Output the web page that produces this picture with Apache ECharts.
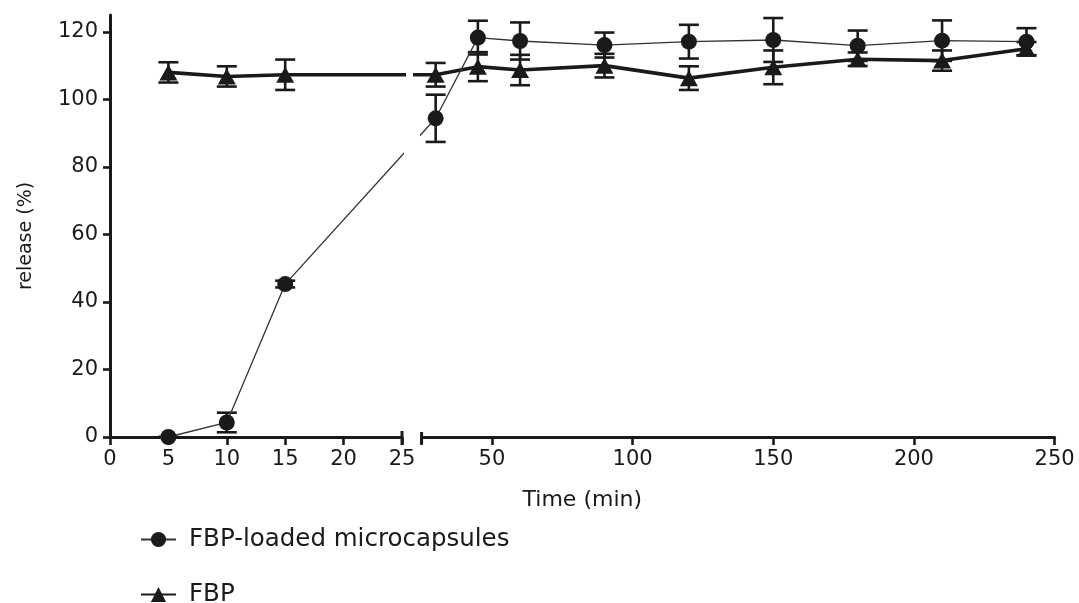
<!DOCTYPE html>
<html>
<head>
<meta charset="utf-8">
<script src="https://cdn.jsdelivr.net/npm/echarts@6/dist/echarts.min.js"></script>
<style>
  html, body { margin: 0; padding: 0; background: #fff; }
  #chart { width: 1079px; height: 603px; }
</style>
</head>
<body>
<div id="chart"></div>
<script>
// Sampling times (min)
const timesMin = [5, 10, 15, 30, 45, 60, 90, 120, 150, 180, 210, 240];

// FBP-loaded microcapsules: mean release (%) and SD
const microMean = [0, 4.3, 45.3, 94.4, 118.3, 117.3, 116.1, 117.1, 117.6, 115.9, 117.4, 117.1];
const microSd   = [0, 2.9, 1.0, 7.0, 5.0, 5.5, 3.7, 5.0, 6.5, 4.5, 6.0, 4.0];

// Free FBP: mean release (%) and SD
const fbpMean = [108.0, 106.8, 107.3, 107.3, 109.7, 108.7, 110.0, 106.3, 109.5, 111.9, 111.5, 115.0];
const fbpSd   = [3.0, 3.0, 4.5, 3.5, 4.3, 4.5, 3.5, 3.5, 5.0, 2.0, 3.0, 2.0];

// Series names
const seriesNames = ['FBP-loaded microcapsules', 'FBP'];

// Axis ranges and tick labels
const seg1Range = [0, 25];
const seg1Interval = 5;
const seg2Range = [25, 250];
const seg2TickValues = [50, 100, 150, 200, 250];
const yRange = [0, 125];
const yTickValues = [0, 20, 40, 60, 80, 100, 120];

// Layout of the broken x axis (pixels)
const PLOT_LEFT = 110;
const PLOT_TOP = 15;
const PLOT_BOTTOM = 166;
const SEG1_W = 292;
const GAP_W = 19.6;
const SEG2_W = 633;
const TOTAL_W = SEG1_W + GAP_W + SEG2_W;
const AXIS_Y = 603 - PLOT_BOTTOM;

const INK = '#1a1a1a';
const FONT = 'DejaVu Sans';

// Maps a time onto the continuous coordinate of the two-segment axis
function brokenX(t) {
  if (t <= seg1Range[1]) {
    return (t - seg1Range[0]) / (seg1Range[1] - seg1Range[0]) * SEG1_W;
  }
  return SEG1_W + GAP_W + (t - seg2Range[0]) / (seg2Range[1] - seg2Range[0]) * SEG2_W;
}

function pointsOf(means) {
  return timesMin.map((t, i) => [brokenX(t), means[i]]);
}
function barsOf(means, sds) {
  return timesMin.map((t, i) => [brokenX(t), means[i] - sds[i], means[i] + sds[i]]);
}

function errorBarRenderer(params, api) {
  const x = api.value(0);
  const lo = api.coord([x, api.value(1)]);
  const hi = api.coord([x, api.value(2)]);
  const half = 10;
  const style = { stroke: INK, lineWidth: 2.6 };
  return {
    type: 'group',
    children: [
      { type: 'line', shape: { x1: lo[0], y1: lo[1], x2: hi[0], y2: hi[1] }, style },
      { type: 'line', shape: { x1: hi[0] - half, y1: hi[1], x2: hi[0] + half, y2: hi[1] }, style },
      { type: 'line', shape: { x1: lo[0] - half, y1: lo[1], x2: lo[0] + half, y2: lo[1] }, style }
    ]
  };
}

const gridBox = { top: PLOT_TOP, bottom: PLOT_BOTTOM, containLabel: false };
const labelStyle = { color: INK, fontFamily: FONT, fontSize: 21 };
const axisLineStyle = { show: true, onZero: false, lineStyle: { color: INK, width: 3 } };
const axisTickStyle = { show: true, inside: false, length: 8, lineStyle: { color: INK, width: 2.6 } };

function legendFor(name, top) {
  return {
    orient: 'vertical',
    left: 135,
    top: top,
    itemWidth: 35,
    itemHeight: 19,
    textStyle: { color: INK, fontFamily: FONT, fontSize: 24.5, padding: [0, 0, 0, 8] },
    data: [name]
  };
}

const chart = echarts.init(document.getElementById('chart'), null, { renderer: 'canvas' });

chart.setOption({
  animation: false,
  backgroundColor: '#ffffff',
  grid: [
    Object.assign({ left: PLOT_LEFT, width: TOTAL_W }, gridBox),
    Object.assign({ left: PLOT_LEFT, width: SEG1_W }, gridBox),
    Object.assign({ left: PLOT_LEFT + SEG1_W + GAP_W, width: SEG2_W }, gridBox)
  ],
  xAxis: [
    {
      gridIndex: 0, type: 'value', min: 0, max: TOTAL_W,
      axisLine: { show: false }, axisTick: { show: false }, axisLabel: { show: false },
      splitLine: { show: false },
      name: 'Time (min)', nameLocation: 'middle', nameGap: 52,
      nameTextStyle: { color: INK, fontFamily: FONT, fontSize: 22 }
    },
    {
      gridIndex: 1, type: 'value', min: seg1Range[0], max: seg1Range[1], interval: seg1Interval,
      axisLine: axisLineStyle, axisTick: axisTickStyle,
      axisLabel: Object.assign({ margin: 12 }, labelStyle),
      splitLine: { show: false }
    },
    {
      gridIndex: 2, type: 'value', min: seg2Range[0], max: seg2Range[1],
      axisLine: axisLineStyle,
      axisTick: Object.assign({ customValues: seg2TickValues.concat([seg2Range[0]]) }, axisTickStyle),
      axisLabel: Object.assign({ margin: 12, customValues: seg2TickValues }, labelStyle),
      splitLine: { show: false }
    }
  ],
  yAxis: [
    {
      gridIndex: 0, type: 'value', min: yRange[0], max: yRange[1],
      axisLine: axisLineStyle,
      axisTick: Object.assign({ customValues: yTickValues }, axisTickStyle, { length: 7 }),
      axisLabel: Object.assign({ margin: 12, customValues: yTickValues }, labelStyle),
      splitLine: { show: false },
      name: 'release (%)', nameLocation: 'middle', nameGap: 74,
      nameTextStyle: { color: INK, fontFamily: FONT, fontSize: 19, padding: [0, 20, 0, 0] }
    },
    { gridIndex: 1, type: 'value', min: yRange[0], max: yRange[1], show: false },
    { gridIndex: 2, type: 'value', min: yRange[0], max: yRange[1], show: false }
  ],
  legend: [
    legendFor(seriesNames[0], 522),
    legendFor(seriesNames[1], 577)
  ],
  series: [
    {
      name: seriesNames[1], type: 'line', xAxisIndex: 0, yAxisIndex: 0,
      data: pointsOf(fbpMean),
      symbol: 'triangle', symbolSize: [18, 16],
      itemStyle: { color: INK },
      lineStyle: { color: INK, width: 3.6 },
      z: 3
    },
    {
      name: seriesNames[0], type: 'line', xAxisIndex: 0, yAxisIndex: 0,
      data: pointsOf(microMean),
      symbol: 'circle', symbolSize: 16,
      itemStyle: { color: INK },
      lineStyle: { color: '#333333', width: 1.3 },
      z: 4
    },
    {
      name: seriesNames[1], type: 'custom', xAxisIndex: 0, yAxisIndex: 0,
      data: barsOf(fbpMean, fbpSd), renderItem: errorBarRenderer,
      encode: { x: 0, y: [1, 2] }, silent: true, z: 2
    },
    {
      name: seriesNames[0], type: 'custom', xAxisIndex: 0, yAxisIndex: 0,
      data: barsOf(microMean, microSd), renderItem: errorBarRenderer,
      encode: { x: 0, y: [1, 2] }, silent: true, z: 2
    }
  ],
  graphic: [
    // gap of the axis break, cut through the connecting lines
    { type: 'rect', z: 100, silent: true,
      shape: { x: PLOT_LEFT + SEG1_W + 4, y: PLOT_TOP, width: 7, height: 85 },
      style: { fill: '#ffffff' } },
    { type: 'rect', z: 100, silent: true,
      shape: { x: PLOT_LEFT + SEG1_W + 2, y: PLOT_TOP + 85, width: 16, height: AXIS_Y - PLOT_TOP - 88 },
      style: { fill: '#ffffff' } },
    // end caps at the break
    { type: 'line', z: 101, silent: true,
      shape: { x1: PLOT_LEFT + SEG1_W, y1: AXIS_Y - 6, x2: PLOT_LEFT + SEG1_W, y2: AXIS_Y + 8 },
      style: { stroke: INK, lineWidth: 3 } },
    { type: 'line', z: 101, silent: true,
      shape: { x1: PLOT_LEFT + SEG1_W + GAP_W, y1: AXIS_Y - 5, x2: PLOT_LEFT + SEG1_W + GAP_W, y2: AXIS_Y + 7 },
      style: { stroke: INK, lineWidth: 3 } }
  ]
});
</script>
</body>
</html>
